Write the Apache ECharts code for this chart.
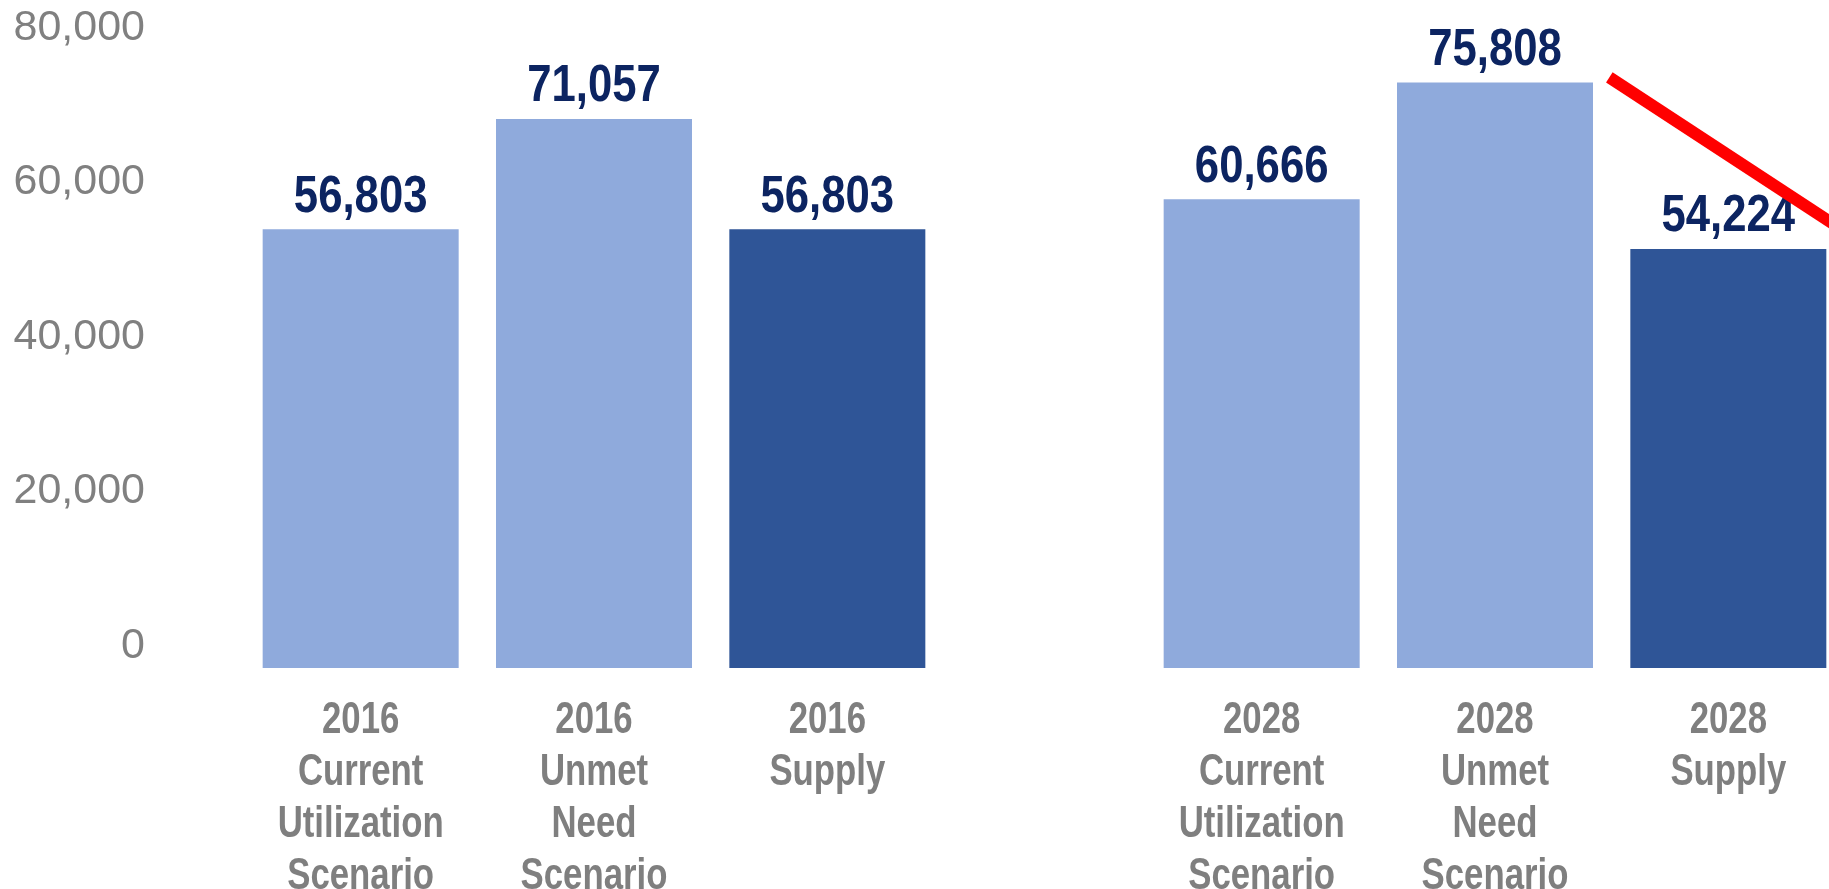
<!DOCTYPE html>
<html>
<head>
<meta charset="utf-8">
<script src="https://cdn.jsdelivr.net/npm/echarts@6/dist/echarts.min.js"></script>
<style>
  html, body { margin: 0; padding: 0; background: #fff; }
  #main { width: 1829px; height: 889px; }
</style>
</head>
<body>
<div id="main"></div>
<script>
// data
var cats2016 = ['2016\nCurrent\nUtilization\nScenario', '2016\nUnmet\nNeed\nScenario', '2016\nSupply'];
var cats2028 = ['2028\nCurrent\nUtilization\nScenario', '2028\nUnmet\nNeed\nScenario', '2028\nSupply'];
var values2016 = [56803, 71057, 56803];
var values2028 = [60666, 75808, 54224];
var yTicks = [0, 20000, 40000, 60000, 80000];
// red trend line (x in bar slots, y in axis units)
var trendX = [1.99, 3.0];
var trendY = [76455, 56500];

var light = '#8FAADC';
var dark = '#2F5597';
var barColors = [light, light, dark];

function fmt(v) {
  return v.toLocaleString('en-US');
}

function barData(vals) {
  var out = [];
  for (var i = 0; i < vals.length; i++) {
    out.push({ value: vals[i], itemStyle: { color: barColors[i] } });
  }
  return out;
}

function pairs(vals) {
  var out = [];
  for (var i = 0; i < vals.length; i++) out.push([i, vals[i]]);
  return out;
}

// value labels above the bars, squeezed to look like a narrow bold face
function valueLabel(params, api) {
  var p = api.coord([api.value(0), api.value(1)]);
  return {
    type: 'text',
    x: p[0],
    y: p[1] - 32,
    scaleX: 0.84,
    style: {
      text: fmt(api.value(1)),
      fill: '#0C2461',
      font: 'bold 52px "Liberation Sans", Arial, sans-serif',
      align: 'center',
      verticalAlign: 'middle'
    }
  };
}

// category labels under the bars
function catLabel(names) {
  return function (params, api) {
    var p = api.coord([api.value(0), 0]);
    return {
      type: 'text',
      x: p[0],
      y: p[1] + 27,
      scaleX: 0.79,
      style: {
        text: names[params.dataIndex],
        fill: '#7F7F7F',
        font: 'bold 44px "Liberation Sans", Arial, sans-serif',
        lineHeight: 52,
        align: 'center',
        verticalAlign: 'top'
      }
    };
  };
}

var chart = echarts.init(document.getElementById('main'));
var option = {
  backgroundColor: '#fff',
  animation: false,
  grid: [
    { left: 244, width: 700, top: 50, bottom: 221, outerBoundsMode: 'none', containLabel: false },
    { left: 1145, width: 700, top: 50, bottom: 221, outerBoundsMode: 'none', containLabel: false }
  ],
  xAxis: [
    { type: 'category', gridIndex: 0, data: cats2016, axisLine: { show: false }, axisTick: { show: false }, axisLabel: { show: false } },
    { type: 'category', gridIndex: 1, data: cats2028, axisLine: { show: false }, axisTick: { show: false }, axisLabel: { show: false } },
    { type: 'value', gridIndex: 1, min: 0, max: 3, show: false }
  ],
  yAxis: [
    {
      type: 'value', gridIndex: 0, min: yTicks[0], max: yTicks[yTicks.length - 1], interval: 20000,
      axisLine: { show: false }, axisTick: { show: false }, splitLine: { show: false },
      axisLabel: {
        color: '#808080',
        fontFamily: "'Liberation Sans', Arial, sans-serif",
        fontSize: 43,
        margin: 99,
        verticalAlign: 'bottom',
        lineHeight: 44,
        formatter: function (v) { return fmt(v); }
      }
    },
    {
      type: 'value', gridIndex: 1, min: yTicks[0], max: yTicks[yTicks.length - 1], interval: 20000,
      show: false
    }
  ],
  series: [
    { type: 'bar', xAxisIndex: 0, yAxisIndex: 0, barWidth: '84%', data: barData(values2016), silent: true },
    { type: 'bar', xAxisIndex: 1, yAxisIndex: 1, barWidth: '84%', data: barData(values2028), silent: true },
    { type: 'custom', xAxisIndex: 0, yAxisIndex: 0, data: pairs(values2016), renderItem: valueLabel, silent: true },
    { type: 'custom', xAxisIndex: 1, yAxisIndex: 1, data: pairs(values2028), renderItem: valueLabel, silent: true },
    { type: 'custom', xAxisIndex: 0, yAxisIndex: 0, data: pairs([0, 0, 0]), renderItem: catLabel(cats2016), silent: true },
    { type: 'custom', xAxisIndex: 1, yAxisIndex: 1, data: pairs([0, 0, 0]), renderItem: catLabel(cats2028), silent: true },
    {
      type: 'line', xAxisIndex: 2, yAxisIndex: 1, symbol: 'none', clip: false, silent: true,
      lineStyle: { color: '#FF0000', width: 12 },
      data: [[trendX[0], trendY[0]], [trendX[1], trendY[1]]]
    }
  ]
};
chart.setOption(option);
</script>
</body>
</html>
